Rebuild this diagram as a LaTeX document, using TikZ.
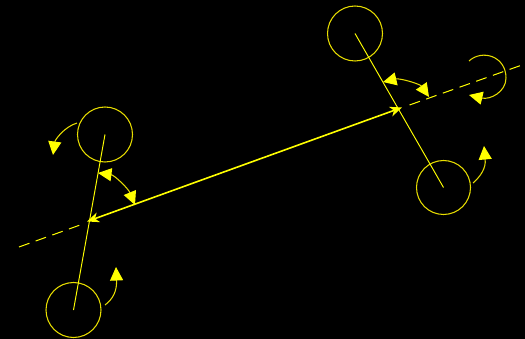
\documentclass[tikz,border=0pt]{standalone}
\usetikzlibrary{arrows.meta}
\definecolor{ylw}{RGB}{255,255,0}
\definecolor{ringc}{RGB}{232,222,0}
\tikzset{
  ring/.style={circle,draw=ringc,line width=1.05pt,inner sep=0pt,minimum size=#1},
  rod/.style={draw=ylw,line width=.95pt},
  axisline/.style={draw=ylw,line width=1pt,dash pattern=on 11pt off 6.7pt},
  bond/.style={draw=ylw,line width=1.6pt,{Stealth[length=12pt,width=10pt,inset=3.5pt]}-{Stealth[length=12pt,width=10pt,inset=3.5pt]}},
  turn/.style={draw=ringc,line width=1.05pt,-{Triangle[length=13.5pt,width=13pt,fill=ylw,color=ylw]}},
  turnboth/.style={draw=ringc,line width=1.05pt,{Triangle[length=13.5pt,width=13pt,fill=ylw,color=ylw]}-{Triangle[length=13.5pt,width=13pt,fill=ylw,color=ylw]}}
}
\begin{document}
\begin{tikzpicture}[x=1pt,y=-1pt]
\fill[black] (0,0) rectangle (525,339);
\useasboundingbox (0,0) rectangle (525,339);
% centres
\coordinate (ca) at (105,134.5);
\coordinate (cb) at (73.5,310);
\coordinate (cc) at (355,33.5);
\coordinate (cd) at (443.5,187.5);
\coordinate (axl) at (19,247);
\coordinate (axle) at (81.5,224.5);
\coordinate (axrs) at (409.5,105);
\coordinate (axr) at (522,65);
\coordinate (jl) at (87,221.5);
\coordinate (jr) at (402,107.5);
% rings
\node[ring=55pt] (ra) at (ca) {};
\node[ring=55pt] (rb) at (cb) {};
\node[ring=55pt] (rc) at (cc) {};
\node[ring=54pt] (rd) at (cd) {};
% rods
\draw[rod] (ca) -- (cb);
\draw[rod] (cc) -- (cd);
% axis
\draw[axisline] (axl) -- (axle);
\draw[axisline] (axrs) -- (axr);
\draw[bond] (jl) -- (jr);
% spin arrows
\coordinate (s1a) at (77,123); \coordinate (s1b) at (53,155);
\draw[turn] (s1a) .. controls (64,127) and (55,140) .. (s1b);
\coordinate (s2a) at (105,305); \coordinate (s2b) at (116,267);
\draw[turn] (s2a) .. controls (113,299) and (117,291) .. (s2b);
\coordinate (s3a) at (473,183); \coordinate (s3b) at (484,146);
\draw[turn] (s3a) .. controls (481,176) and (486,168) .. (s3b);
\coordinate (s4a) at (469,61); \coordinate (s4b) at (469,95);
\draw[turn] (s4a) .. controls (482,49) and (506,56) .. (506,78) .. controls (506,92) and (490,100) .. (s4b);
% angle arrows
\coordinate (a1a) at (98,173); \coordinate (a1b) at (135,205);
\draw[turnboth] (a1a) .. controls (114,175) and (128,188) .. (a1b);
\coordinate (a2a) at (383,82); \coordinate (a2b) at (429,97);
\draw[turnboth] (a2a) .. controls (400,78) and (420,84) .. (a2b);
\end{tikzpicture}
\end{document}
